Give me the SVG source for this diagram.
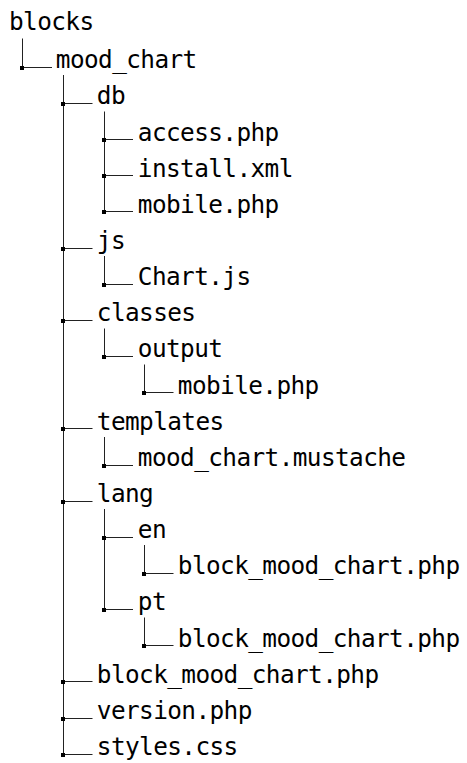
<svg xmlns="http://www.w3.org/2000/svg" width="467" height="763" viewBox="0 0 467 763">
  <style>
    .t { font-family: "DejaVu Sans Mono", "Liberation Mono", monospace; font-size: 24.4px; letter-spacing: -0.6px; fill: #000; }
    .ln { stroke: #222; stroke-width: 1; fill: none; }
    .dot { fill: #000; }
  </style>
  <rect width="467" height="763" fill="#fff"/>

  <!-- tree connectors: vertical trunks, horizontal branches, junction dots -->
  <g id="connectors">
    <!-- trunks -->
    <path class="ln" d="M22.5 38.5 V68"/>
    <path class="ln" d="M63.5 75 V755"/>
    <path class="ln" d="M104.5 111.5 V212"/>
    <path class="ln" d="M104.5 256 V285"/>
    <path class="ln" d="M104.5 328.5 V357"/>
    <path class="ln" d="M144.5 364.5 V393"/>
    <path class="ln" d="M104.5 437 V465"/>
    <path class="ln" d="M104.5 509 V610"/>
    <path class="ln" d="M144.5 545 V574"/>
    <path class="ln" d="M144.5 617.5 V646"/>
    <!-- branches -->
    <path class="ln" d="M22 67.5 H52"/>
    <path class="ln" d="M63 103.5 H92.5 M63 248.5 H92.5 M63 320.5 H92.5 M63 428.5 H92.5 M63 501.5 H92.5 M63 681.5 H92.5 M63 718.5 H92.5 M63 754.5 H92.5"/>
    <path class="ln" d="M104 139.5 H133 M104 175.5 H133 M104 211.5 H133 M104 284.5 H133 M104 356.5 H133 M104 465.5 H133 M104 537.5 H133 M104 609.5 H133"/>
    <path class="ln" d="M144 392.5 H173.5 M144 573.5 H173.5 M144 645.5 H173.5"/>
    <!-- junction dots -->
    <g class="dot">
      <rect x="20" y="66" width="4" height="4"/>
      <rect x="61" y="102" width="4" height="4"/>
      <rect x="61" y="247" width="4" height="4"/>
      <rect x="61" y="319" width="4" height="4"/>
      <rect x="61" y="427" width="4" height="4"/>
      <rect x="61" y="500" width="4" height="4"/>
      <rect x="61" y="680" width="4" height="4"/>
      <rect x="61" y="717" width="4" height="4"/>
      <rect x="61" y="753" width="4" height="4"/>
      <rect x="102" y="138" width="4" height="4"/>
      <rect x="102" y="174" width="4" height="4"/>
      <rect x="102" y="210" width="4" height="4"/>
      <rect x="102" y="283" width="4" height="4"/>
      <rect x="102" y="355" width="4" height="4"/>
      <rect x="102" y="464" width="4" height="4"/>
      <rect x="102" y="536" width="4" height="4"/>
      <rect x="102" y="608" width="4" height="4"/>
      <rect x="142" y="391" width="4" height="4"/>
      <rect x="142" y="572" width="4" height="4"/>
      <rect x="142" y="644" width="4" height="4"/>
    </g>
  </g>

  <!-- tree entries -->
  <g id="blocks"><text class="t" x="9" y="30">blocks</text></g>
  <g id="mood_chart"><text class="t" x="55.8" y="68.2">mood_chart</text></g>
  <g id="db"><text class="t" x="96.8" y="104.4">db</text></g>
  <g id="db_access"><text class="t" x="137.8" y="140.5">access.php</text></g>
  <g id="db_install"><text class="t" x="137.8" y="176.7">install.xml</text></g>
  <g id="db_mobile"><text class="t" x="137.8" y="212.8">mobile.php</text></g>
  <g id="js"><text class="t" x="96.8" y="248.9">js</text></g>
  <g id="js_chart"><text class="t" x="137.8" y="285.1">Chart.js</text></g>
  <g id="classes"><text class="t" x="96.8" y="321.2">classes</text></g>
  <g id="classes_output"><text class="t" x="137.8" y="357.4">output</text></g>
  <g id="output_mobile"><text class="t" x="177.8" y="393.5">mobile.php</text></g>
  <g id="templates"><text class="t" x="96.8" y="429.6">templates</text></g>
  <g id="templates_mustache"><text class="t" x="137.8" y="465.8">mood_chart.mustache</text></g>
  <g id="lang"><text class="t" x="96.8" y="501.9">lang</text></g>
  <g id="lang_en"><text class="t" x="137.8" y="538.1">en</text></g>
  <g id="en_block"><text class="t" x="177.8" y="574.2">block_mood_chart.php</text></g>
  <g id="lang_pt"><text class="t" x="137.8" y="610.3">pt</text></g>
  <g id="pt_block"><text class="t" x="177.8" y="646.5">block_mood_chart.php</text></g>
  <g id="block_php"><text class="t" x="96.8" y="682.6">block_mood_chart.php</text></g>
  <g id="version_php"><text class="t" x="96.8" y="718.8">version.php</text></g>
  <g id="styles_css"><text class="t" x="96.8" y="754.9">styles.css</text></g>
</svg>
